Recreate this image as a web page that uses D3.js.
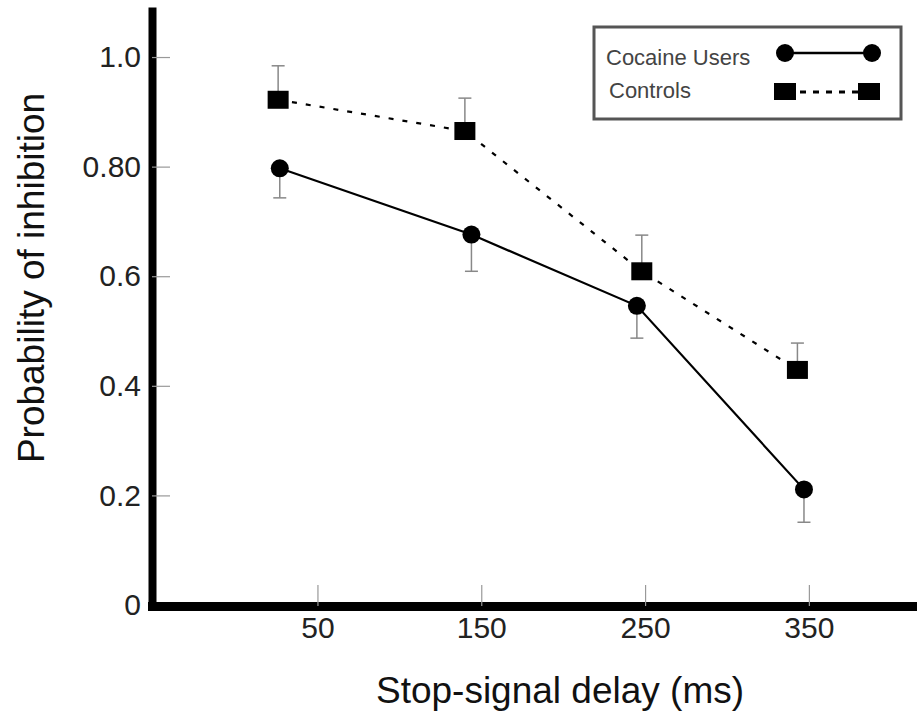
<!DOCTYPE html>
<html>
<head>
<meta charset="utf-8">
<script src="https://d3js.org/d3.v7.min.js"></script>
<style>
  body { margin: 0; background: #fff; }
  text { font-family: "Liberation Sans", Arial, sans-serif; }
</style>
</head>
<body>
<div id="Vis"></div>
<script>
// values
var delays = [50, 150, 250, 350];                 // x tick values (ms)
var yTicks = [0, 0.2, 0.4, 0.6, 0.8, 1.0];
var yTickLabels = ["0", "0.2", "0.4", "0.6", "0.80", "1.0"];
var seriesNames = ["Cocaine Users", "Controls"];

var cocaineX = [27, 144, 245, 347];
var cocaineY = [0.797, 0.676, 0.546, 0.211];
var cocaineErr = [0.054, 0.067, 0.059, 0.060];

var controlsX = [26, 140, 248, 343];
var controlsY = [0.922, 0.865, 0.609, 0.429];
var controlsErr = [0.062, 0.060, 0.066, 0.049];

var width = 917, height = 712;

// append the svg object to the body of the page
var svg = d3.select("#Vis")
  .append("svg")
    .attr("width", width)
    .attr("height", height);

// scales
var x = d3.scaleLinear().domain([-51, 416]).range([152, 917]);
var y = d3.scaleLinear().domain([0, 1.084]).range([605, 11]);

// build point lists
var cocaine = cocaineX.map(function(d, i) { return {x: d, y: cocaineY[i], e: cocaineErr[i]}; });
var controls = controlsX.map(function(d, i) { return {x: d, y: controlsY[i], e: controlsErr[i]}; });

// Y axis (ticks point inward)
var yAxis = svg.append("g")
  .attr("transform", "translate(152,0)")
  .call(d3.axisLeft(y)
    .tickValues(yTicks)
    .tickFormat(function(d, i) { return yTickLabels[i]; })
    .tickSizeInner(-18)
    .tickSizeOuter(0)
    .tickPadding(11));
yAxis.select(".domain")
  .attr("stroke", "#000")
  .attr("stroke-width", 8)
  .attr("stroke-linecap", "square");
yAxis.selectAll(".tick line").attr("stroke", "#999").attr("stroke-width", 1.2);
yAxis.selectAll(".tick text")
  .attr("font-size", "30px")
  .attr("fill", "#222");

// X axis
var xAxis = svg.append("g")
  .attr("transform", "translate(0,606)")
  .call(d3.axisBottom(x)
    .tickValues(delays)
    .tickSizeInner(-21)
    .tickSizeOuter(0)
    .tickPadding(11));
xAxis.select(".domain")
  .attr("stroke", "#000")
  .attr("stroke-width", 9)
  .attr("stroke-linecap", "square");
xAxis.selectAll(".tick line").attr("stroke", "#999").attr("stroke-width", 1.2);
xAxis.selectAll(".tick text")
  .attr("font-size", "30px")
  .attr("fill", "#222");

// axis titles
svg.append("text")
  .attr("x", 560)
  .attr("y", 703)
  .attr("text-anchor", "middle")
  .attr("font-size", "37px")
  .attr("fill", "#111")
  .text("Stop-signal delay (ms)");

svg.append("text")
  .attr("transform", "translate(44,278) rotate(-90)")
  .attr("text-anchor", "middle")
  .attr("font-size", "37px")
  .attr("fill", "#111")
  .text("Probability of inhibition");

// error bars (controls up, cocaine down)
function errorBars(data, dir) {
  var g = svg.append("g").attr("stroke", "#888").attr("stroke-width", 1.5);
  g.selectAll("line.v").data(data).enter().append("line")
    .attr("x1", function(d) { return x(d.x); })
    .attr("x2", function(d) { return x(d.x); })
    .attr("y1", function(d) { return y(d.y); })
    .attr("y2", function(d) { return y(d.y + dir * d.e); });
  g.selectAll("line.c").data(data).enter().append("line")
    .attr("x1", function(d) { return x(d.x) - 6.5; })
    .attr("x2", function(d) { return x(d.x) + 6.5; })
    .attr("y1", function(d) { return y(d.y + dir * d.e); })
    .attr("y2", function(d) { return y(d.y + dir * d.e); });
}
errorBars(controls, 1);
errorBars(cocaine, -1);

var line = d3.line()
  .x(function(d) { return x(d.x); })
  .y(function(d) { return y(d.y); });

// controls: dashed line + squares
svg.append("path")
  .datum(controls)
  .attr("fill", "none")
  .attr("stroke", "#000")
  .attr("stroke-width", 2.2)
  .attr("stroke-dasharray", "5,9")
  .attr("d", line);
svg.selectAll("rect.ctrl").data(controls).enter().append("rect")
  .attr("x", function(d) { return x(d.x) - 10.5; })
  .attr("y", function(d) { return y(d.y) - 9; })
  .attr("width", 21)
  .attr("height", 18)
  .attr("fill", "#000");

// cocaine users: solid line + circles
svg.append("path")
  .datum(cocaine)
  .attr("fill", "none")
  .attr("stroke", "#000")
  .attr("stroke-width", 2.2)
  .attr("d", line);
svg.selectAll("circle.coc").data(cocaine).enter().append("circle")
  .attr("cx", function(d) { return x(d.x); })
  .attr("cy", function(d) { return y(d.y); })
  .attr("r", 9)
  .attr("fill", "#000");

// legend
var legend = svg.append("g");
legend.append("rect")
  .attr("x", 594).attr("y", 27)
  .attr("width", 307).attr("height", 92)
  .attr("fill", "#fff")
  .attr("stroke", "#555")
  .attr("stroke-width", 3);

legend.append("text")
  .attr("x", 606).attr("y", 65)
  .attr("font-size", "22px")
  .attr("fill", "#444")
  .text(seriesNames[0]);
legend.append("text")
  .attr("x", 609).attr("y", 98)
  .attr("font-size", "22px")
  .attr("fill", "#444")
  .text(seriesNames[1]);

legend.append("line")
  .attr("x1", 785).attr("x2", 872).attr("y1", 53).attr("y2", 53)
  .attr("stroke", "#000").attr("stroke-width", 2.5);
legend.selectAll("circle").data([785, 872]).enter().append("circle")
  .attr("cx", function(d) { return d; })
  .attr("cy", 53)
  .attr("r", 9)
  .attr("fill", "#000");

legend.append("line")
  .attr("x1", 796).attr("x2", 858).attr("y1", 92).attr("y2", 92)
  .attr("stroke", "#000").attr("stroke-width", 3)
  .attr("stroke-dasharray", "6,7")
  .attr("stroke-dashoffset", -4);
legend.selectAll("rect.sym").data([785, 869]).enter().append("rect")
  .attr("x", function(d) { return d - 11; })
  .attr("y", 83)
  .attr("width", 22)
  .attr("height", 17)
  .attr("fill", "#000");
</script>
</body>
</html>
